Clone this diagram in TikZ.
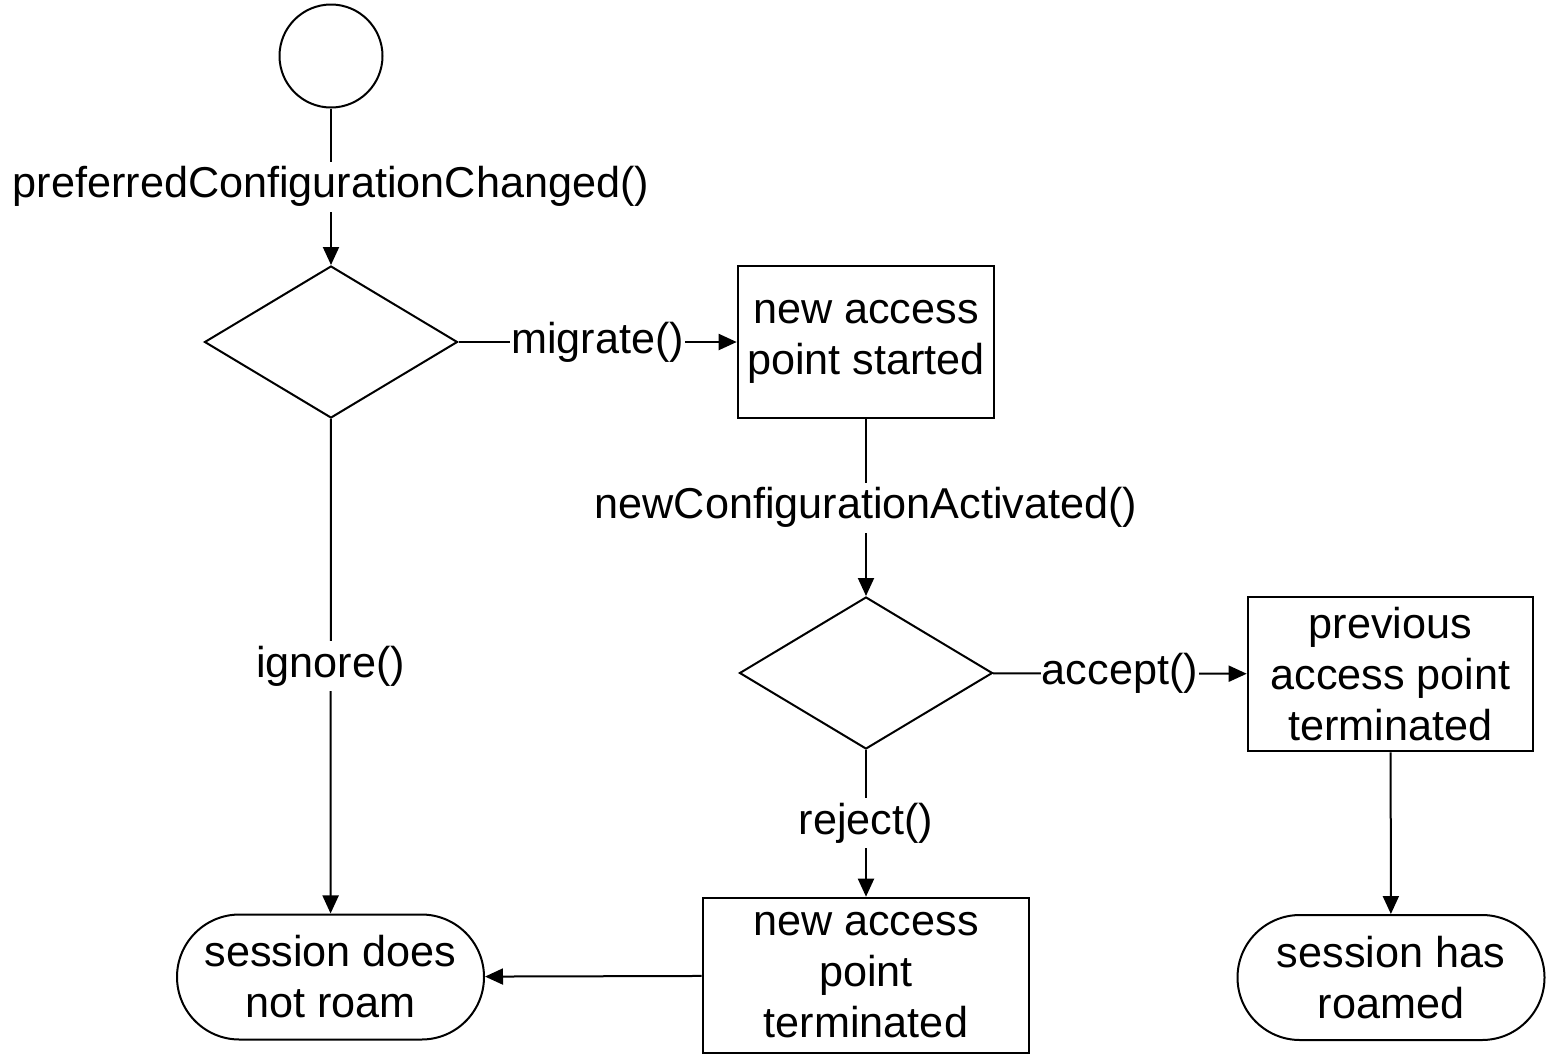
\documentclass[tikz,border=0pt]{standalone}
\usepackage{fontspec}
\setmainfont{Liberation Sans}
\usetikzlibrary{shapes.geometric, shapes.misc, arrows.meta}

\tikzset{
    every node/.style={font=\fontsize{21.6pt}{25.5pt}\selectfont, align=center},
    startstate/.style={draw, circle, line width=1pt, minimum size=51.5pt, inner sep=0pt},
    choice/.style={draw, diamond, line width=1pt, minimum width=126.5pt, minimum height=76pt, inner sep=0pt},
    stepbox/.style={draw, rectangle, line width=1.3pt, inner sep=0pt},
    endstate/.style={draw, rounded rectangle, line width=1pt, minimum width=153.5pt, minimum height=62.5pt, inner sep=0pt},
    flow/.style={line width=1pt, -{Triangle[length=9pt,width=8pt]}},
    lbl/.style={fill=white, inner xsep=0.5pt, inner ysep=2.5pt}
}

\begin{document}
\begin{tikzpicture}[x=0.5pt, y=-0.5pt]
        \useasboundingbox (0,0) rectangle (1547,1055);

        \node[startstate] (start) at (331,56) {};
        \node[choice] (dec1) at (331,342) {};
        \node[stepbox, minimum width=128pt, minimum height=76pt] (apstart) at (866,342) {new access\\point started};
        \node[choice] (dec2) at (866,673) {};
        \node[stepbox, minimum width=142.5pt, minimum height=77pt] (prevterm) at (1390.5,674) {previous\\access point\\terminated};
        \node[stepbox, minimum width=163pt, minimum height=77.5pt] (apterm) at (866,975.5) {new access\\point\\terminated};
        \node[endstate] (noroam) at (330.5,977) {session does\\not roam};
        \node[endstate] (roamed) at (1391,977.5) {session has\\roamed};

        \draw[flow] (start) -- (dec1) node[midway, lbl] {preferredConfigurationChanged()};
        \draw[flow] (dec1) -- (apstart) node[midway, lbl] {migrate()};
        \draw[flow] (apstart) -- (dec2) node[midway, lbl] {newConfigurationActivated()};
        \draw[flow] (dec2) -- (prevterm) node[midway, lbl] {accept()};
        \draw[flow] (dec2) -- (apterm) node[midway, lbl] {reject()};
        \draw[flow] (dec1) -- (noroam) node[midway, lbl] {ignore()};
        \draw[flow] (apterm) -- (noroam);
        \draw[flow] (prevterm) -- (roamed);
    \end{tikzpicture}
\end{document}
